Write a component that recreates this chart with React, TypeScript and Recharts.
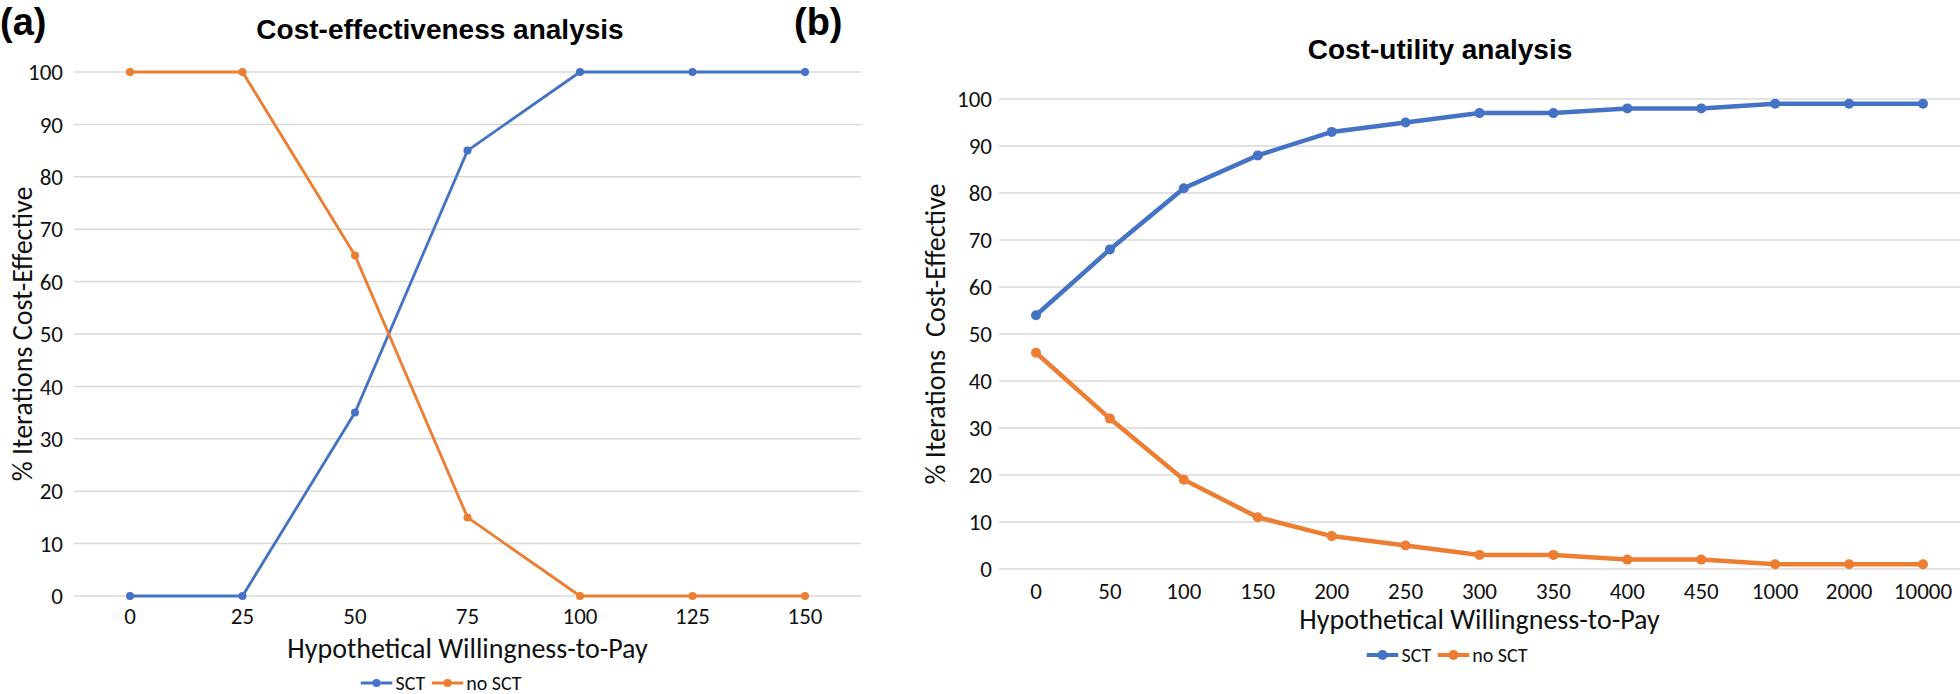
import React from 'react';
import { LineChart, Line, XAxis, YAxis, CartesianGrid, Legend, Label } from 'recharts';

const ceCategories = ['0', '25', '50', '75', '100', '125', '150'];
const ceSCT = [0, 0, 35, 85, 100, 100, 100];
const ceNoSCT = [100, 100, 65, 15, 0, 0, 0];

const cuCategories = ['0', '50', '100', '150', '200', '250', '300', '350', '400', '450', '1000', '2000', '10000'];
const cuSCT = [54, 68, 81, 88, 93, 95, 97, 97, 98, 98, 99, 99, 99];
const cuNoSCT = [46, 32, 19, 11, 7, 5, 3, 3, 2, 2, 1, 1, 1];

const yTicks = [0, 10, 20, 30, 40, 50, 60, 70, 80, 90, 100];
const seriesNames = ['SCT', 'no SCT'];

const BLUE = '#4472C4';
const ORANGE = '#ED7D31';
const TICK_FONT = "Carlito, Lato, 'Noto Sans', sans-serif";
const TITLE_FONT = "'Liberation Sans Narrow', 'Liberation Sans', Arial, sans-serif";

const ceData = ceCategories.map((c, i) => ({ wtp: c, sct: ceSCT[i], nosct: ceNoSCT[i] }));
const cuData = cuCategories.map((c, i) => ({ wtp: c, sct: cuSCT[i], nosct: cuNoSCT[i] }));

const tickStyle = { fontFamily: TICK_FONT, fontSize: 23, fill: '#111' };

function makeLegend(centerX: number, lineW: number, dotR: number) {
  return () => (
    <div
      style={{
        position: 'relative',
        height: 24,
        width: '100%',
        fontFamily: TICK_FONT,
        fontSize: 20,
        color: '#111',
      }}
    >
      <div
        style={{
          position: 'absolute',
          left: centerX,
          top: 0,
          transform: 'translateX(-50%)',
          display: 'flex',
          alignItems: 'center',
          height: 24,
          whiteSpace: 'nowrap',
        }}
      >
        {seriesNames.map((n, i) => (
          <span key={n} style={{ display: 'inline-flex', alignItems: 'center', marginRight: 6 }}>
            <svg width={32} height={14} style={{ marginRight: 3 }}>
              <line x1={0} y1={7} x2={32} y2={7} stroke={i === 0 ? BLUE : ORANGE} strokeWidth={lineW} />
              <circle cx={16} cy={7} r={dotR} fill={i === 0 ? BLUE : ORANGE} />
            </svg>
            {n}
          </span>
        ))}
      </div>
    </div>
  );
}

function yTitle(text: string, dx: number) {
  return (props: any) => {
    const vb = props.viewBox || {};
    const cx = vb.x + dx;
    const cy = vb.y + vb.height / 2;
    return (
      <text
        x={cx}
        y={cy}
        transform={`rotate(-90, ${cx}, ${cy})`}
        textAnchor="middle"
        dominantBaseline="central"
        style={{ fontFamily: TICK_FONT, fontSize: 28, fill: '#111' }}
      >
        {text}
      </text>
    );
  };
}

function xTitle(text: string) {
  return (props: any) => {
    const vb = props.viewBox || {};
    return (
      <text
        x={vb.x + vb.width / 2}
        y={vb.y + vb.height}
        textAnchor="middle"
        style={{ fontFamily: TICK_FONT, fontSize: 28, fill: '#111' }}
      >
        {text}
      </text>
    );
  };
}

export default function App() {
  return (
    <div style={{ position: 'absolute', left: 0, top: 0, width: 1960, height: 694, background: '#fff', overflow: 'hidden' }}>
      <div style={{ position: 'absolute', left: 0, top: 0 }}>
        <LineChart width={900} height={694} data={ceData} margin={{ top: 72, right: 39, bottom: 12, left: 0 }}>
          <CartesianGrid vertical={false} stroke="#d9d9d9" strokeWidth={1.5} />
          <XAxis
            dataKey="wtp"
            interval={0}
            axisLine={false}
            tickLine={false}
            tickSize={0}
            tickMargin={12}
            height={62}
            padding={{ left: 56, right: 56 }}
            tick={tickStyle}
          >
            <Label content={xTitle('Hypothetical Willingness-to-Pay')} />
          </XAxis>
          <YAxis
            domain={[0, 100]}
            ticks={yTicks}
            width={74}
            axisLine={false}
            tickLine={false}
            tickSize={0}
            tickMargin={11}
            tick={tickStyle}
          >
            <Label content={yTitle('% Iterations Cost-Effective', 22)} />
          </YAxis>
          <Legend content={makeLegend(444, 3, 4)} wrapperStyle={{ top: 671, left: 0, width: 900 }} />
          <Line type="linear" dataKey="sct" name="SCT" stroke={BLUE} strokeWidth={2.8} dot={{ r: 4, fill: BLUE, stroke: BLUE, strokeWidth: 0 }} isAnimationActive={false} />
          <Line type="linear" dataKey="nosct" name="no SCT" stroke={ORANGE} strokeWidth={2.8} dot={{ r: 4, fill: ORANGE, stroke: ORANGE, strokeWidth: 0 }} isAnimationActive={false} />
        </LineChart>
      </div>

      <div style={{ position: 'absolute', left: 900, top: 0 }}>
        <LineChart width={1060} height={694} data={cuData} margin={{ top: 99, right: 0, bottom: 41, left: 0 }}>
          <CartesianGrid vertical={false} stroke="#d9d9d9" strokeWidth={1.5} />
          <XAxis
            dataKey="wtp"
            interval={0}
            axisLine={false}
            tickLine={false}
            tickSize={0}
            tickMargin={14}
            height={60}
            padding={{ left: 37, right: 37 }}
            tick={tickStyle}
          >
            <Label content={xTitle('Hypothetical Willingness-to-Pay')} />
          </XAxis>
          <YAxis
            domain={[0, 100]}
            ticks={yTicks}
            width={99}
            axisLine={false}
            tickLine={false}
            tickSize={0}
            tickMargin={7}
            tick={tickStyle}
          >
            <Label content={yTitle('% Iterations\u00a0\u00a0Cost-Effective', 35)} />
          </YAxis>
          <Legend content={makeLegend(550, 4, 5)} wrapperStyle={{ top: 643, left: 0, width: 1060 }} />
          <Line type="linear" dataKey="sct" name="SCT" stroke={BLUE} strokeWidth={4.5} dot={{ r: 5, fill: BLUE, stroke: BLUE, strokeWidth: 0 }} isAnimationActive={false} />
          <Line type="linear" dataKey="nosct" name="no SCT" stroke={ORANGE} strokeWidth={4.5} dot={{ r: 5, fill: ORANGE, stroke: ORANGE, strokeWidth: 0 }} isAnimationActive={false} />
        </LineChart>
      </div>

      <div style={{ position: 'absolute', left: 0, top: 2, fontFamily: "'Liberation Sans', Arial, sans-serif", fontWeight: 700, fontSize: 38, lineHeight: '40px' }}>(a)</div>
      <div style={{ position: 'absolute', left: 794, top: 2, fontFamily: "'Liberation Sans', Arial, sans-serif", fontWeight: 700, fontSize: 38, lineHeight: '40px' }}>(b)</div>
      <div style={{ position: 'absolute', left: 440, top: 30, transform: 'translate(-50%, -50%)', fontFamily: TITLE_FONT, fontWeight: 700, fontSize: 28, whiteSpace: 'nowrap' }}>Cost-effectiveness analysis</div>
      <div style={{ position: 'absolute', left: 1440, top: 50, transform: 'translate(-50%, -50%)', fontFamily: TITLE_FONT, fontWeight: 700, fontSize: 28, whiteSpace: 'nowrap' }}>Cost-utility analysis</div>
    </div>
  );
}
